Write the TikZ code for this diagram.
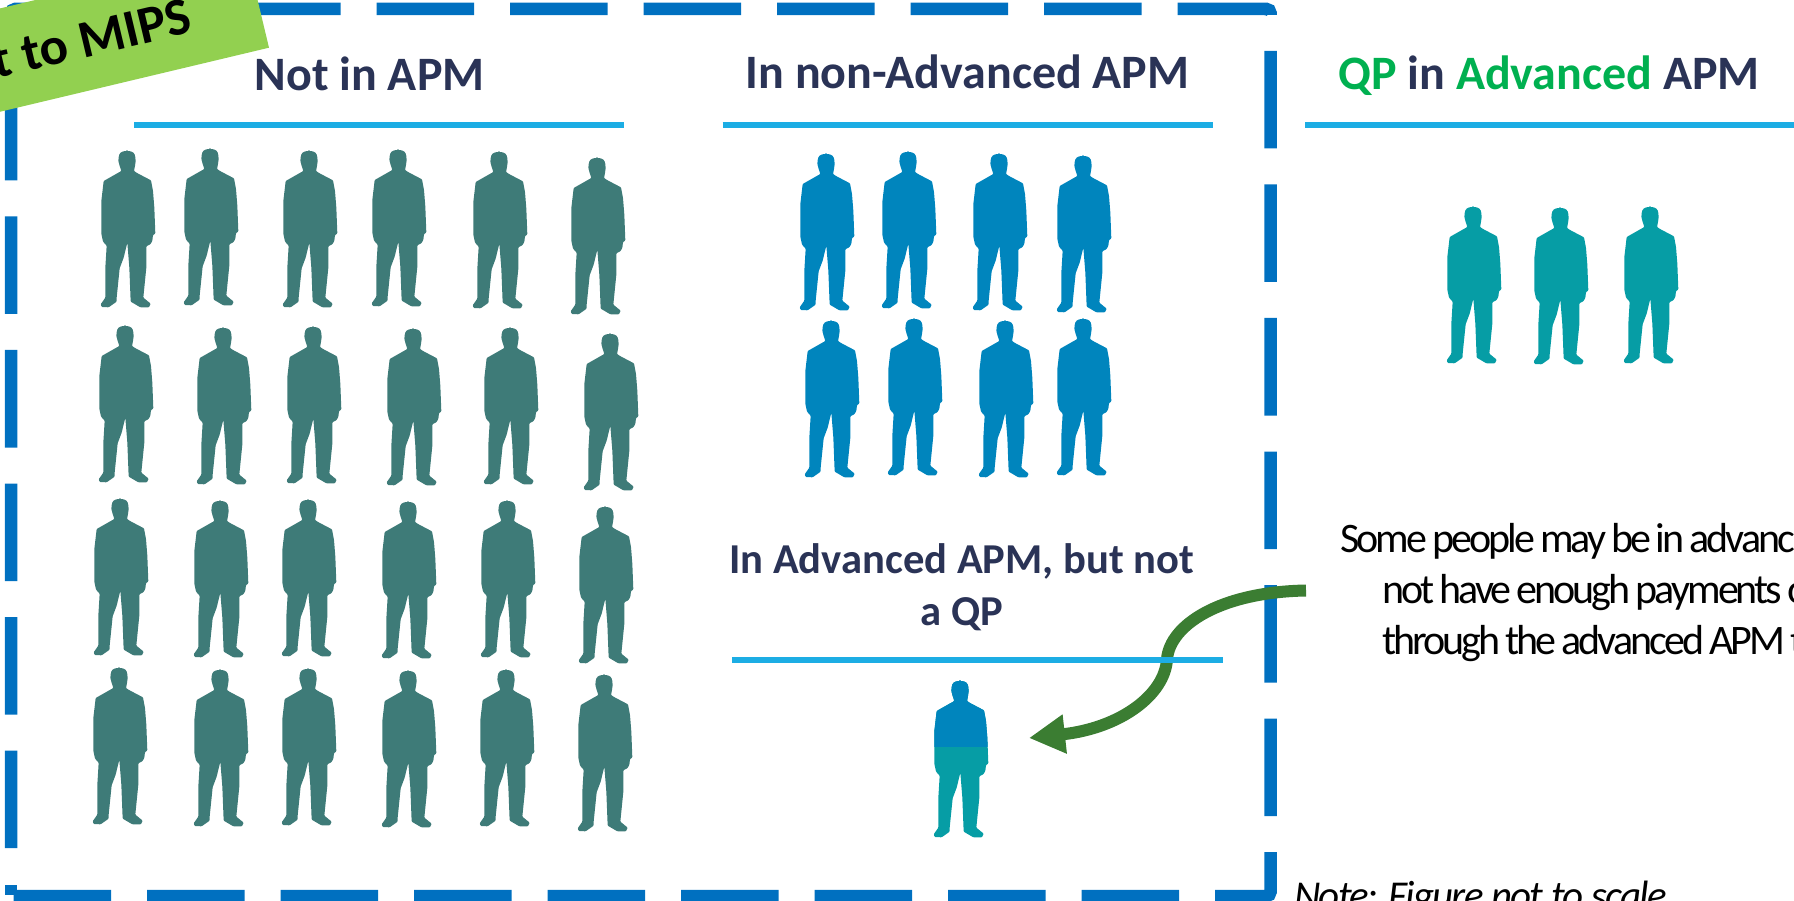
\documentclass[tikz,border=0pt]{standalone}
\usepackage{fontspec}
\setmainfont{Carlito}
\newfontfamily\tightfont[LetterSpace=-7,WordSpace=0.75]{Carlito}
\newfontfamily\notefont[LetterSpace=-4.3]{Carlito}
\usetikzlibrary{arrows.meta}
\definecolor{boxblue}{HTML}{0070C0}
\definecolor{ruleblue}{HTML}{1CADE4}
\definecolor{navy}{HTML}{2A3356}
\definecolor{qpgreen}{HTML}{00B050}
\definecolor{limegreen}{HTML}{92D050}
\definecolor{arrowgreen}{HTML}{3B7D32}
\definecolor{pslate}{HTML}{3E7B78}
\definecolor{pblue}{HTML}{0085BD}
\definecolor{pteal}{HTML}{069DA5}
\tikzset{
  boxline/.style={draw=boxblue,line width=12.5pt,line cap=butt,rounded corners=4pt,dash pattern=on 97.5pt off 36pt},
  rulebar/.style={draw=ruleblue,line width=6pt},
  heading/.style={inner sep=0pt,anchor=base,font=\bfseries\fontsize{48}{56}\selectfont,text=navy,align=center},
  subheading/.style={heading,font=\bfseries\fontsize{42.6}{50}\selectfont},
  bodytext/.style={inner sep=0pt,anchor=base west,font=\tightfont\fontsize{42}{50}\selectfont,text=black},
  person/.pic={
    \fill[pic actions,rounded corners=0.8pt,scale=0.3333]
      (0,0) .. controls (16,0) and (24,6) .. (25,20) -- (26,30) -- (24,45) -- (21,60)
      -- (30,66) -- (72,88) -- (78,120) -- (82,170) -- (85,248) -- (78,252) -- (76,270)
      -- (70,280) -- (58,286) -- (58,350) -- (53,400) -- (49,440) -- (71,458) -- (66,469)
      -- (40,469) -- (11,452) -- (7,350) -- (1,275) -- (-10,320) -- (-22,352) -- (-31,440)
      -- (-31,452) -- (-55,469) -- (-76,468) -- (-79,460) -- (-65,440) -- (-65,350)
      -- (-61,284) -- (-72,272) -- (-77,248) -- (-77,150) -- (-70,90) -- (-17,60)
      -- (-22,45) -- (-26,30) -- (-25,20) .. controls (-24,6) and (-16,0) .. (0,0) -- cycle;
  }
}
\begin{document}
\begin{tikzpicture}[x=1pt,y=-1pt]
\useasboundingbox (0,0) rectangle (1794,901);
\begin{scope}
\clip (0,0) rectangle (1794,901);
% dashed box
\draw[boxline] (1270.5,51) -- (1270.5,896) -- (12,896);
\draw[boxline] (11.2,848) -- (11.2,9) -- (100,9);
\draw[boxline] (243,9) -- (1270.5,9) -- (1270.5,15);
\draw[boxblue,line width=12.5pt] (11.2,885) -- (11.2,895);
% rules
\coordinate (r1a) at (134,125); \coordinate (r1b) at (624,125);
\coordinate (r2a) at (722.5,125); \coordinate (r2b) at (1213,125);
\coordinate (r3a) at (1305,125); \coordinate (r3b) at (1794,125);
\coordinate (r4a) at (732,659.5); \coordinate (r4b) at (1222.5,659.5);
% arrow
\coordinate (arrowstart) at (1306,590.5);
\coordinate (arrowmid) at (1167,659);
\coordinate (arrowend) at (1029,738);
\draw[arrowgreen,line width=12pt,-{Triangle[length=36pt,width=37pt]}]
  (arrowstart) .. controls (1220,592) and (1170,625) .. (arrowmid)
  .. controls (1165,695) and (1120,728) .. (arrowend);
\draw[rulebar] (r1a) -- (r1b);
\draw[rulebar] (r2a) -- (r2b);
\draw[rulebar] (r3a) -- (r3b);
\draw[rulebar] (r4a) -- (r4b);
% green banner
\fill[limegreen] (269,47.7) -- (245.6,-50) -- (-200,56) -- (-176,153.7) -- cycle;
\node[inner sep=0pt,anchor=base east,rotate=13.4,font=\bfseries\fontsize{53}{60}\selectfont,text=black] (banner) at (194,32) {t to MIPS};
% headings
\node[heading] (h1) at (369.5,91) {Not in APM};
\node[heading] (h2) at (967.5,89) {In non-Advanced APM};
\node[heading] (h3) at (1549,89.5) {\textcolor{qpgreen}{QP} in \textcolor{qpgreen}{Advanced} APM};
\node[subheading] (h4) at (961.6,573) {In Advanced APM, but not};
\node[subheading] (h5) at (962,625) {a QP};
% side text
\node[bodytext] (t1) at (1340,552.5) {Some people may be in advanc};
\node[bodytext] (t2) at (1382,603) {not have enough payments o};
\node[bodytext] (t3) at (1382,654) {through the advanced APM t};
\node[bodytext,font=\notefont\itshape\fontsize{41}{50}\selectfont] (note) at (1294,909) {Note: Figure not to scale};
% people
\foreach \cx/\ty in {127/151,210/149,309/151,398/150,499/152,597/158,
  125/326,223/328,313/327,413/329,510/328,610/334,
  120/499,220/501,308/500,408/502,507/501,605/507,
  119/668,220/670,308/669,408/671,506/670,604/675}
  \pic[fill=pslate] at (\cx,\ty) {person};
\foreach \cx/\ty in {826/154,908/152,999/154,1083/156,831/321,914/319,1005/321,1083/319}
  \pic[fill=pblue] at (\cx,\ty) {person};
\foreach \cx/\ty in {1473/207,1560/208,1650/207}
  \pic[fill=pteal] at (\cx,\ty) {person};
\pic[fill=pteal] at (960,681) {person};
\begin{scope}
\clip (900,670) rectangle (1020,746);
\pic[fill=pblue] at (960,681) {person};
\end{scope}
\end{scope}
\end{tikzpicture}
\end{document}
